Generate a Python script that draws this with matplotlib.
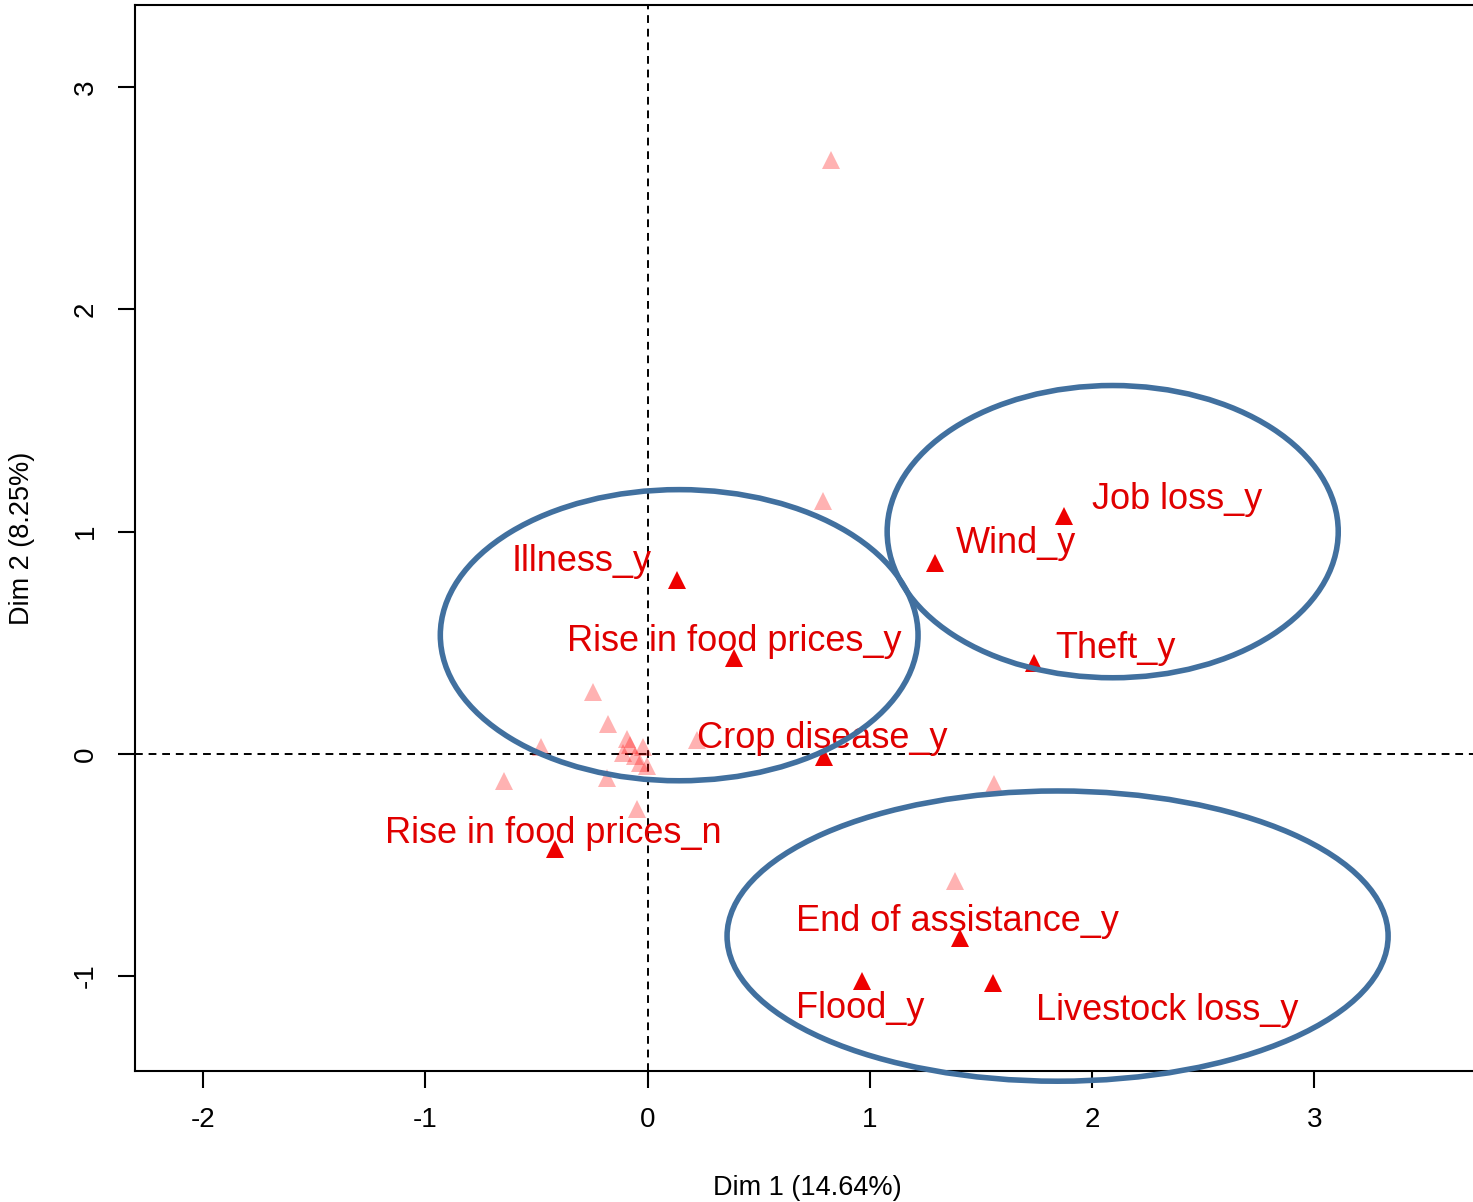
import matplotlib
matplotlib.use("Agg")
import matplotlib.pyplot as plt
from matplotlib.patches import Ellipse

plt.rcParams['font.family'] = ['Liberation Sans', 'DejaVu Sans']
plt.rcParams['axes.unicode_minus'] = False

# Active categories (labelled, solid red)
labels = ["Job loss_y", "Wind_y", "Theft_y", "Illness_y", "Rise in food prices_y",
          "Crop disease_y", "Rise in food prices_n", "End of assistance_y",
          "Flood_y", "Livestock loss_y"]
dim1 = [1.876, 1.295, 1.741, 0.131, 0.388, 0.794, -0.415, 1.407, 0.965, 1.556]
dim2 = [1.072, 0.860, 0.410, 0.784, 0.432, -0.014, -0.428, -0.829, -1.023, -1.032]

# Remaining categories (unlabelled, faded)
other_dim1 = [0.825, 0.789, -0.248, -0.180, -0.478, -0.645, -0.185, -0.050, 0.221,
              1.561, 1.385, -0.095, -0.081, -0.023, -0.113, -0.059, -0.036, -0.005]
other_dim2 = [2.671, 1.140, 0.279, 0.135, 0.032, -0.122, -0.108, -0.248, 0.063,
              -0.135, -0.572, 0.068, 0.041, 0.032, 0.005, -0.009, -0.041, -0.054]

# Label offsets from each point, in pixels (x right, y up)
label_offsets = [(113, 7), (81, 10), (81, 5), (-95, 9), (0, 7),
                 (-2, 9), (-2, 6), (-3, 7), (-2, -37), (174, -37)]

# Group outlines: (centre x, centre y, width, height)
groups = [(0.142, 0.534, 2.15, 1.31),
          (2.093, 1.000, 2.03, 1.315),
          (1.845, -0.820, 2.975, 1.306)]

fig = plt.figure(figsize=(14.73, 12.02), dpi=100)
ax = fig.add_axes([0.09165, 0.10899, 0.9131, 0.8869])

ax.axhline(0, color='black', lw=1.4, ls=(0, (4, 3)), zorder=1)
ax.axvline(0, color='black', lw=1.4, ls=(0, (4, 3)), zorder=1)

ax.plot(other_dim1, other_dim2, ls='none', marker='^', ms=13, mew=0,
        color='red', alpha=0.3, zorder=2)
ax.plot(dim1, dim2, ls='none', marker='^', ms=13, mew=0, color='#ee0000', zorder=3)

for name, x, y, (dx, dy) in zip(labels, dim1, dim2, label_offsets):
    ax.annotate(name, (x, y), xytext=(dx, dy), textcoords='offset pixels',
                ha='center', va='baseline', fontsize=26, color='#e00000', zorder=4)

for cx, cy, w, h in groups:
    ax.add_patch(Ellipse((cx, cy), w, h, fill=False, ec='#41709f', lw=4.0,
                         zorder=5, clip_on=False))

ax.set_xlim(-2.307, 3.746)
ax.set_ylim(-1.427, 3.370)
ax.set_xticks([-2, -1, 0, 1, 2, 3])
ax.set_yticks([-1, 0, 1, 2, 3])
ax.tick_params(length=12, width=1.5, labelsize=20, pad=14)
for lab in ax.get_yticklabels():
    lab.set_rotation(90)
    lab.set_va('center')
for s in ax.spines.values():
    s.set_linewidth(1.5)

ax.set_xlabel('Dim 1 (14.64%)', fontsize=19.5, labelpad=30)
ax.set_ylabel('Dim 2 (8.25%)', fontsize=19.5, labelpad=27)

fig.savefig('out.png', dpi=100)
